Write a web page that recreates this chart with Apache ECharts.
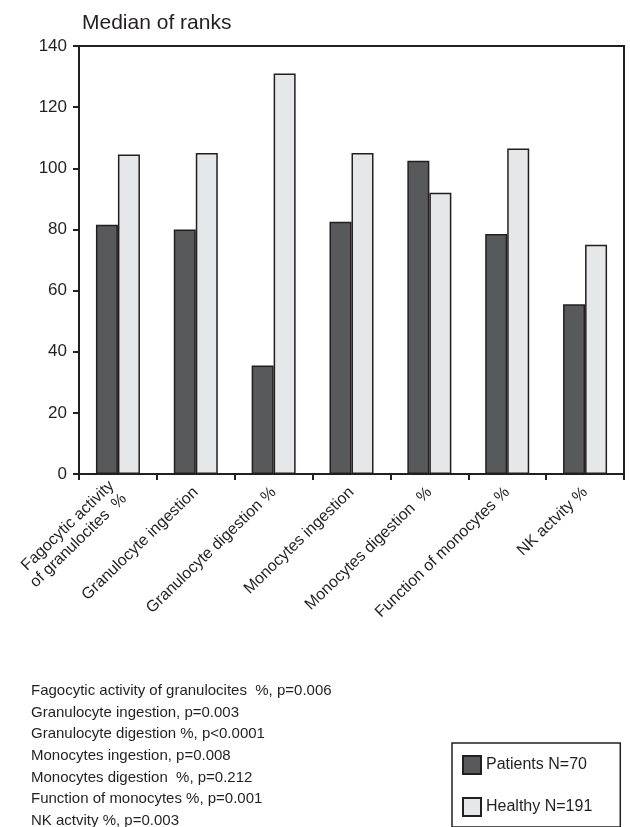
<!DOCTYPE html>
<html>
<head>
<meta charset="utf-8">
<script src="https://cdn.jsdelivr.net/npm/echarts@6/dist/echarts.min.js"></script>
<style>
  html, body { margin: 0; padding: 0; background: #fff; }
  #main { width: 630px; height: 827px; }
</style>
</head>
<body>
<div id="main"></div>
<script>
  // categories on the x axis
  var categories = [
    'Fagocytic activity\nof granulocites  %',
    'Granulocyte ingestion',
    'Granulocyte digestion %',
    'Monocytes ingestion',
    'Monocytes digestion  %',
    'Function of monocytes %',
    'NK actvity %'
  ]
  // median of ranks
  var patients = [81.5, 80, 35.5, 82.5, 102.5, 78.5, 55.5]
  var healthy = [104.5, 105, 131, 105, 92, 106.5, 75]
  // notes below the chart
  var pNames = [
    'Fagocytic activity of granulocites  %',
    'Granulocyte ingestion',
    'Granulocyte digestion %',
    'Monocytes ingestion',
    'Monocytes digestion  %',
    'Function of monocytes %',
    'NK actvity %'
  ]
  var pValues = ['p=0.006', 'p=0.003', 'p<0.0001', 'p=0.008', 'p=0.212', 'p=0.001', 'p=0.003']

  var font = '"Liberation Sans", Arial, sans-serif'
  var ink = '#231f20'

  var myChart = echarts.init(document.getElementById('main'))

  var noteLines = pNames.map(function (n, i) {
    return n + ', ' + pValues[i]
  })

  var option = {
    animation: false,
    textStyle: { fontFamily: font, color: ink },
    title: {
      text: 'Median of ranks',
      left: 77,
      top: 8,
      textStyle: { fontFamily: font, fontSize: 21, fontWeight: 'normal', color: ink }
    },
    grid: {
      left: 79,
      right: 6,
      top: 46,
      bottom: 353,
      show: true,
      borderColor: ink,
      borderWidth: 2,
      containLabel: false
    },
    legend: {
      orient: 'vertical',
      left: 452,
      top: 743,
      padding: [12, 28, 10, 10],
      itemWidth: 18,
      itemHeight: 18,
      itemGap: 22,
      borderColor: ink,
      borderWidth: 1.5,
      icon: 'rect',
      textStyle: { fontFamily: font, fontSize: 16, color: ink },
      data: ['Patients N=70', 'Healthy N=191']
    },
    xAxis: {
      type: 'category',
      data: categories,
      axisLine: { lineStyle: { color: ink, width: 2 } },
      axisTick: { show: true, length: 6, lineStyle: { color: ink, width: 2 } },
      axisLabel: {
        interval: 0,
        rotate: 44,
        margin: 16,
        fontSize: 16,
        lineHeight: 18,
        color: ink,
        fontFamily: font
      },
      splitLine: { show: false }
    },
    yAxis: {
      type: 'value',
      min: 0,
      max: 140,
      interval: 20,
      axisLine: { show: true, lineStyle: { color: ink, width: 2 } },
      axisTick: { show: true, length: 6, lineStyle: { color: ink, width: 2 } },
      axisLabel: { fontSize: 17, color: ink, margin: 12, fontFamily: font },
      splitLine: { show: false }
    },
    series: [
      {
        name: 'Patients N=70',
        type: 'bar',
        data: patients,
        barWidth: 22,
        barGap: '0%',
        itemStyle: { color: '#58595b', borderColor: ink, borderWidth: 1.5 }
      },
      {
        name: 'Healthy N=191',
        type: 'bar',
        data: healthy,
        barWidth: 22,
        itemStyle: { color: '#e6e7e8', borderColor: ink, borderWidth: 1.5 }
      }
    ],
    graphic: [
      {
        type: 'text',
        left: 31,
        top: 680,
        style: {
          text: noteLines.join('\n'),
          font: '15px ' + font,
          lineHeight: 21.7,
          fill: ink
        }
      }
    ]
  }

  myChart.setOption(option)
  window.addEventListener('resize', function () {
    myChart.resize()
  })
</script>
</body>
</html>
